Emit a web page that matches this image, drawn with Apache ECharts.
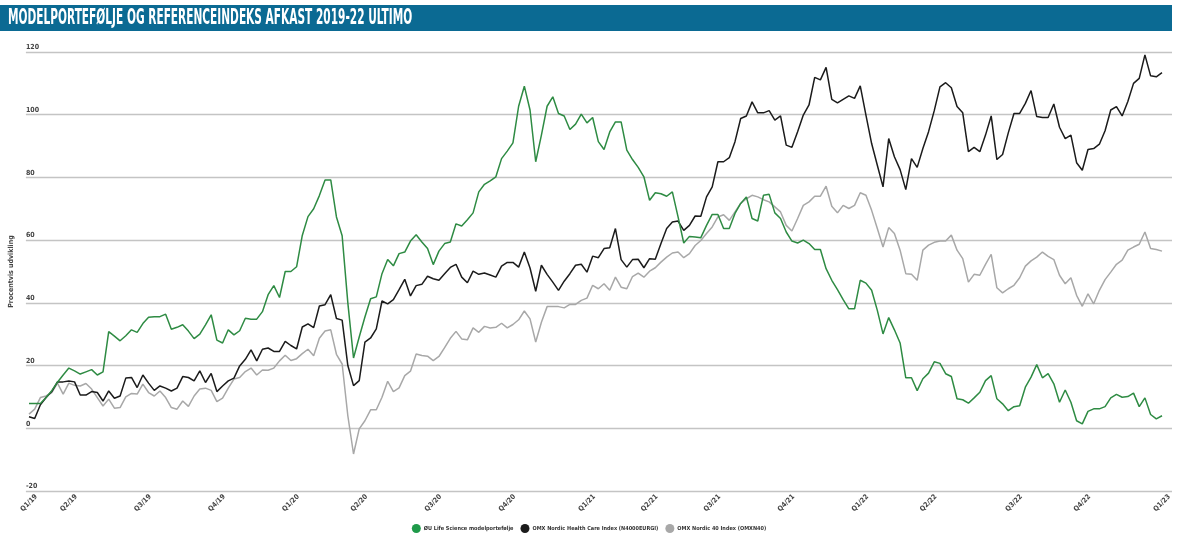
<!DOCTYPE html>
<html>
<head>
<meta charset="utf-8">
<script src="https://cdn.jsdelivr.net/npm/echarts@6/dist/echarts.min.js"></script>
<style>
html,body{margin:0;padding:0;background:#fff;}
#chart{width:1178px;height:552px;}
</style>
</head>
<body>
<div id="chart"></div>
<script>
// ---- DATA ----
const titleText = 'MODELPORTEFØLJE OG REFERENCEINDEKS AFKAST 2019-22 ULTIMO';
const yAxisName = 'Procentvis udvikling';
const seriesNames = ['ØU Life Science modelportefølje', 'OMX Nordic Health Care Index (N4000EURGI)', 'OMX Nordic 40 Index (OMXN40)'];
const quarterLabels = ['Q1/19','Q2/19','Q3/19','Q4/19','Q1/20','Q2/20','Q3/20','Q4/20','Q1/21','Q2/21','Q3/21','Q4/21','Q1/22','Q2/22','Q3/22','Q4/22','Q1/23'];
const quarterIdx = [0,7,20,33,46,58,71,84,98,109,120,133,146,158,173,185,199];
const yTicks = {min:-20, max:120, interval:20};

const greenValues = [
7.9,7.9,7.9,9.8,12,14.7,17,19.2,18.3,17.3,18,18.7,17,18,30.8,29.4,27.9,29.5,31.4,30.6,
33.4,35.4,35.6,35.6,36.4,31.6,32.2,33,31,28.6,30,33,36.2,28.1,27.2,31.4,29.8,31.1,35.1,34.8,
34.8,37.2,42.6,45.5,41.7,50,50,51.5,61.5,67.5,70,74.2,79.2,79.2,67.4,61.4,40,22.4,29.1,35.5,
41.3,41.9,49.3,53.8,51.8,55.7,56.2,59.7,61.7,59.4,57.3,52.2,56.5,58.9,59.4,65.2,64.5,66.5,68.7,75.4,
77.8,78.9,80.2,86,88.4,91,102.7,109.1,101.5,85,93.5,102.7,105.7,100.4,99.6,95.3,97,100.2,97.4,99.1,
91.4,88.9,94.5,97.7,97.7,88.7,85.7,83.2,80.2,72.7,75.1,74.8,74,75.4,67.4,59.1,61.2,61,60.8,64.7,
68.2,68.2,63.7,63.7,68.5,71.7,73.8,66.9,66.1,74.3,74.6,68.7,66.9,62.6,59.7,59.1,60,58.9,57,57,
50.9,47.2,44.2,41,38.1,38.1,47.2,46.3,44,37.6,30.1,35.3,31.4,27.2,16.1,16.1,12,15.8,17.6,21.2,
20.7,17.4,16.5,9.4,9.1,8,9.7,11.5,15.2,16.8,9.4,7.8,5.6,6.9,7.2,13.1,16.3,20.3,16.1,17.4,
14.2,8.3,12.2,8.3,2.4,1.4,5.4,6.2,6.2,6.9,9.7,10.8,9.9,10.1,11.2,6.9,9.7,4.4,3,4
];
const blackValues = [
3.7,3.1,7.5,9.8,11.7,14.8,14.8,15.1,14.8,10.6,10.6,11.7,11.4,8.7,11.9,9.6,10.3,16,16.2,13,
17,14.4,12.1,13.5,12.8,11.9,12.8,16.5,16.2,15.1,18.3,14.6,17.5,11.7,13.5,15.1,16,19.9,22,25,
21.5,25.2,25.6,24.5,24.5,27.7,26.4,25.3,32.3,33.3,32.1,39,39.4,42.6,35,34.5,20,13.6,15.2,27.5,
28.8,31.7,40.6,39.7,41,44.2,47.5,42.2,45.5,45.9,48.5,47.7,47.2,49.3,51.3,52.3,48.2,46.4,50.1,49.1,
49.5,48.9,48.2,51.7,52.9,52.9,51.4,56.2,51.1,43.7,52,49.1,46.6,44,46.9,49.3,52,52.3,49.8,54.9,
54.4,57.3,57.6,63.7,53.8,51.4,53.8,53.9,51.2,54.1,53.9,58.9,63.7,65.8,66.1,63.1,64.7,67.7,67.6,73.8,
77,85,85,86.3,91.4,98.8,99.6,104.1,100.6,100.6,101.3,98.3,99.6,90.3,89.6,94.6,99.9,103.1,111.9,111.1,
115.1,104.9,103.8,104.9,106,105.2,109.2,99.9,90.8,83.9,77,92.4,86.6,82.5,76.1,86,83.2,89.2,94.6,101.3,
108.9,110.2,108.6,102.6,100.6,88.2,89.6,88.2,93.5,99.6,85.7,87.3,94.2,100.4,100.4,103.6,107.7,99.4,99.1,99.1,
103.4,96,92.4,93.5,84.7,82.3,88.9,89.2,90.6,94.9,101.5,102.6,99.6,104.2,110,111.6,119.1,112.4,112.1,113.4
];
const greyValues = [
4.5,6.1,9.8,10.3,11.4,14.4,10.9,14.4,13.7,13.5,14.3,12.5,9.8,7.1,9.3,6.4,6.6,10,11.1,10.9,
14.1,11.4,10.3,11.9,9.8,6.6,6.1,8.7,7,10.3,12.5,12.8,12.1,8.5,9.6,12.8,15.7,16.2,18.1,19.2,
17,18.6,18.5,19.2,21.5,23.3,21.6,22.2,23.8,25.2,23.1,28.7,31,31.4,23.6,20.5,4,-8.2,-0.2,2.4,
5.9,5.9,9.9,15,11.7,12.9,16.8,18.2,23.7,23.2,23,21.6,22.9,25.7,28.7,30.9,28.5,28.2,32,30.6,
32.5,32,32.2,33.5,32,33.1,34.6,37.4,34.9,27.5,33.8,38.8,38.8,38.8,38.4,39.5,39.5,40.8,41.5,45.6,
44.5,46.1,44,48.2,45,44.5,48.4,49.5,48.2,50.1,51.2,53,54.6,55.9,56.2,54.4,55.7,58.3,59.9,62.1,
64.2,67.4,68.1,66.3,69,71.7,73.2,74.3,73.8,72.9,72.2,70.6,69,64.7,62.9,66.9,71.1,72.2,74,74,
77.2,70.8,68.7,71.1,70.1,71.1,75.1,74.3,69.5,63.7,57.8,64,62.1,56.8,49.3,49.1,47.2,56.8,58.4,59.3,
59.7,59.7,61.6,56.8,54.1,46.6,49.1,48.8,52.3,55.5,44.8,43.2,44.5,45.6,48,51.7,53.4,54.6,56.2,54.8,
53.8,48.8,46.1,48,42.4,38.9,42.9,39.7,44,47.4,49.8,52.3,53.6,56.8,57.8,58.7,62.6,57.3,57,56.5
];

// ---- BUILD ----
const weeks = greenValues.map((_, i) => 'w' + i);
const labelAt = {};
quarterIdx.forEach((idx, k) => { labelAt[idx] = quarterLabels[k]; });

const colors = ['#2e8b43', '#1b1b1b', '#a8a8a8'];
const smallFont = '"Liberation Sans Narrow","DejaVu Sans Condensed",sans-serif';

const chart = echarts.init(document.getElementById('chart'), null, {renderer: 'canvas'});
const gridTop = 52, gridBottom = 61;

chart.setOption({
  animation: false,
  backgroundColor: '#ffffff',
  graphic: [
    {type: 'rect', left: 0, top: 5, shape: {width: 1172, height: 26}, style: {fill: '#0b6a93'}},
    {type: 'text', left: 8, top: 8, scaleX: 0.56, originX: 0,
     style: {text: titleText, fill: '#ffffff', font: 'bold 21px "DejaVu Sans Condensed", sans-serif'}}
  ],
  grid: [
    {left: 15, right: 6, top: gridTop, bottom: gridBottom, containLabel: false},
    {left: 29, right: 16, top: gridTop, bottom: gridBottom, containLabel: false}
  ],
  legend: {
    bottom: 14, left: 'center',
    icon: 'circle', itemWidth: 9, itemHeight: 9, itemGap: 7,
    data: seriesNames,
    textStyle: {fontSize: 5.5, fontWeight: 'bold', color: '#333', fontFamily: smallFont, padding: [0, 0, 0, -2]}
  },
  xAxis: [
    {type: 'value', gridIndex: 0, show: false, min: 0, max: 1},
    {type: 'category', gridIndex: 1, data: weeks, boundaryGap: false,
     axisLine: {show: false}, axisTick: {show: false},
     axisLabel: {
       interval: (idx) => labelAt[idx] !== undefined,
       formatter: (v, idx) => labelAt[idx] || '',
       rotate: 45, align: 'center', verticalAlign: 'middle', margin: 12,
       fontSize: 7, fontWeight: 'bold', color: '#444', fontFamily: smallFont
     },
     splitLine: {show: false}}
  ],
  yAxis: [
    {type: 'value', gridIndex: 0, min: yTicks.min, max: yTicks.max, interval: yTicks.interval,
     name: yAxisName, nameLocation: 'middle', nameRotate: 90, nameGap: 5,
     nameTextStyle: {fontSize: 7, fontWeight: 'bold', color: '#444', fontFamily: smallFont},
     axisLine: {show: false}, axisTick: {show: false},
     axisLabel: {inside: true, margin: 0, verticalAlign: 'bottom', padding: [0, 0, 1, 0],
       fontSize: 7, fontWeight: 'bold', color: '#444', fontFamily: smallFont},
     splitLine: {show: true, lineStyle: {color: '#c4c4c4', width: 1.3}}},
    {type: 'value', gridIndex: 1, min: yTicks.min, max: yTicks.max, interval: yTicks.interval, show: false,
     splitLine: {show: false}}
  ],
  series: [
    {name: seriesNames[0], type: 'line', xAxisIndex: 1, yAxisIndex: 1, data: greenValues, symbol: 'none',
     lineStyle: {color: colors[0], width: 1.5}, itemStyle: {color: '#1f9a4a'}, z: 3},
    {name: seriesNames[1], type: 'line', xAxisIndex: 1, yAxisIndex: 1, data: blackValues, symbol: 'none',
     lineStyle: {color: colors[1], width: 1.5}, itemStyle: {color: '#1b1b1b'}, z: 2},
    {name: seriesNames[2], type: 'line', xAxisIndex: 1, yAxisIndex: 1, data: greyValues, symbol: 'none',
     lineStyle: {color: colors[2], width: 1.5}, itemStyle: {color: '#a8a8a8'}, z: 1}
  ]
});
</script>
</body>
</html>
